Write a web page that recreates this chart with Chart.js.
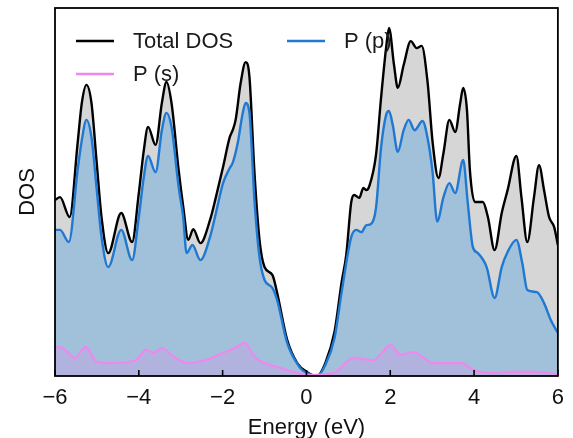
<!DOCTYPE html>
<html>
<head>
<meta charset="utf-8">
<script src="https://cdn.jsdelivr.net/npm/chart.js@4"></script>
<style>
  html, body { margin: 0; padding: 0; background: #ffffff; }
  #wrap { width: 573px; height: 438px; }
</style>
</head>
<body>
<div id="wrap"><canvas id="c" width="573" height="438"></canvas></div>
<script>
// ---- data (energy in eV, DOS in arbitrary units) ----
const energyTotal = [-6.00,-5.88,-5.65,-5.46,-5.36,-5.25,-5.13,-5.01,-4.89,-4.73,-4.42,-4.16,-4.00,-3.88,-3.78,-3.60,-3.45,-3.34,-3.22,-3.05,-2.94,-2.82,-2.70,-2.53,-2.30,-2.16,-1.99,-1.83,-1.76,-1.69,-1.57,-1.45,-1.36,-1.24,-1.12,-1.00,-0.81,-0.70,-0.46,-0.22,0.01,0.25,0.45,0.67,0.84,0.95,1.07,1.14,1.26,1.36,1.43,1.50,1.66,1.78,1.90,1.97,2.09,2.18,2.32,2.49,2.63,2.75,2.89,3.01,3.15,3.27,3.41,3.55,3.67,3.74,3.83,3.90,4.02,4.21,4.33,4.49,4.66,4.80,5.01,5.13,5.27,5.43,5.55,5.67,5.79,5.91,6.00];
const dosTotal    = [4.78,4.86,4.32,6.33,7.42,7.91,7.42,5.87,4.32,3.34,4.43,3.64,4.97,6.14,6.77,6.28,7.42,7.99,7.42,5.60,4.60,3.70,3.99,3.61,4.24,4.86,5.68,6.49,6.68,6.96,7.96,8.53,8.13,5.52,3.70,2.96,2.74,2.26,0.98,0.35,0.11,0.00,0.35,1.20,2.55,3.29,4.73,4.92,4.84,5.11,5.05,5.16,6.01,7.55,8.91,9.46,8.45,7.83,8.45,9.10,8.91,8.97,7.99,6.36,5.38,6.06,6.96,6.63,7.42,7.83,7.23,5.60,4.73,4.73,4.32,3.42,4.43,5.05,5.98,4.86,3.64,4.86,5.73,5.05,4.32,4.05,3.56];

const energyP = [-6.00,-5.88,-5.67,-5.46,-5.36,-5.25,-5.13,-5.01,-4.89,-4.73,-4.42,-4.16,-4.00,-3.88,-3.78,-3.60,-3.45,-3.34,-3.22,-3.05,-2.94,-2.86,-2.72,-2.53,-2.30,-2.16,-1.99,-1.83,-1.76,-1.64,-1.52,-1.45,-1.36,-1.24,-1.12,-1.00,-0.81,-0.70,-0.46,-0.15,0.01,0.25,0.45,0.67,0.84,1.07,1.19,1.31,1.43,1.54,1.66,1.78,1.90,1.97,2.06,2.18,2.32,2.44,2.58,2.77,2.89,3.01,3.12,3.27,3.41,3.55,3.74,3.85,3.97,4.09,4.30,4.49,4.66,4.80,5.01,5.15,5.27,5.50,5.67,5.83,6.00];
const dosP    = [3.97,3.97,3.64,5.60,6.41,6.96,6.49,5.14,3.78,2.96,3.97,3.15,4.32,5.41,5.98,5.54,6.68,7.15,6.77,5.14,4.30,3.34,3.56,3.15,3.78,4.43,5.24,5.65,5.79,6.33,7.15,7.42,7.15,4.78,3.23,2.61,2.39,2.07,0.90,0.22,0.08,0.00,0.30,1.03,2.28,3.78,3.97,3.91,4.10,4.13,4.57,6.20,7.09,7.20,6.82,6.09,6.68,6.96,6.68,6.93,6.47,5.54,4.20,4.86,5.24,4.97,5.87,4.70,3.51,3.34,2.96,2.12,2.96,3.37,3.70,3.07,2.34,2.28,1.98,1.52,1.17];

const energyS = [-6.00,-5.93,-5.76,-5.53,-5.27,-5.00,-4.70,-4.07,-3.83,-3.64,-3.45,-3.17,-2.82,-2.42,-1.94,-1.71,-1.47,-1.24,-1.00,-0.62,-0.22,0.08,0.65,1.12,1.59,2.01,2.25,2.53,3.05,3.36,3.71,4.00,4.49,4.80,5.50,6.00];
const dosS    = [0.76,0.79,0.71,0.49,0.79,0.38,0.35,0.43,0.71,0.63,0.76,0.52,0.35,0.43,0.65,0.76,0.90,0.52,0.35,0.22,0.08,0.03,0.08,0.49,0.43,0.84,0.57,0.65,0.35,0.35,0.35,0.16,0.08,0.11,0.11,0.05];

const xTickValues = [-6, -4, -2, 0, 2, 4, 6];
const xTickLabels = ['\u22126', '\u22124', '\u22122', '0', '2', '4', '6'];
const seriesNames = ['Total DOS', 'P (p)', 'P (s)'];

const pts = (xs, ys) => xs.map((x, i) => ({ x: x, y: ys[i] }));
const FONT = '"Liberation Sans", Arial, sans-serif';

const framePlugin = {
  id: 'frame',
  afterDatasetsDraw(chart) {
    const { ctx, chartArea: a, scales } = chart;
    ctx.save();
    ctx.strokeStyle = '#000';
    ctx.lineWidth = 1.6;
    xTickValues.forEach(v => {
      const px = scales.x.getPixelForValue(v);
      ctx.beginPath();
      ctx.moveTo(px, a.bottom);
      ctx.lineTo(px, a.bottom - 6);
      ctx.stroke();
    });
    ctx.lineWidth = 1.8;
    ctx.strokeRect(a.left, a.top, a.right - a.left, a.bottom - a.top);
    ctx.restore();
  },
  afterDraw(chart) {
    const { ctx } = chart;
    const items = [
      { name: seriesNames[0], color: '#000000', x: 76, y: 41 },
      { name: seriesNames[2], color: '#ee88ee', x: 76, y: 74 },
      { name: seriesNames[1], color: '#1f78d1', x: 287, y: 41 }
    ];
    ctx.save();
    ctx.font = '22px ' + FONT;
    ctx.textBaseline = 'middle';
    ctx.textAlign = 'left';
    items.forEach(it => {
      ctx.strokeStyle = it.color;
      ctx.lineWidth = 2.4;
      ctx.beginPath();
      ctx.moveTo(it.x, it.y);
      ctx.lineTo(it.x + 38, it.y);
      ctx.stroke();
      ctx.fillStyle = '#1a1a1a';
      ctx.fillText(it.name, it.x + 57, it.y + 1);
    });
    ctx.restore();
  }
};

new Chart(document.getElementById('c'), {
  type: 'line',
  data: {
    datasets: [
      {
        label: seriesNames[2],
        data: pts(energyS, dosS),
        borderColor: '#ee88ee',
        backgroundColor: 'rgba(238,130,238,0.22)',
        borderWidth: 2.2,
        fill: 'origin',
        order: 0
      },
      {
        label: seriesNames[1],
        data: pts(energyP, dosP),
        borderColor: '#1f78d1',
        backgroundColor: 'rgb(161,192,218)',
        borderWidth: 2.4,
        fill: 'origin',
        order: 1
      },
      {
        label: seriesNames[0],
        data: pts(energyTotal, dosTotal),
        borderColor: '#000000',
        backgroundColor: 'rgb(214,214,214)',
        borderWidth: 2.4,
        fill: 'origin',
        order: 2
      }
    ]
  },
  options: {
    responsive: false,
    animation: false,
    events: [],
    layout: { padding: { top: 8, right: 9, left: 0, bottom: 0 } },
    elements: {
      point: { radius: 0 },
      line: { tension: 0.4, cubicInterpolationMode: 'monotone' }
    },
    plugins: {
      legend: { display: false },
      tooltip: { enabled: false }
    },
    scales: {
      x: {
        type: 'linear',
        min: -6,
        max: 6,
        afterBuildTicks: (s) => { s.ticks = xTickValues.map(v => ({ value: v })); },
        afterFit: (s) => { s.height = 62; },
        grid: { display: false, drawTicks: false },
        border: { display: false },
        ticks: {
          padding: 9,
          color: '#111',
          font: { family: FONT, size: 22 },
          maxRotation: 0,
          callback: (v, i) => xTickLabels[i]
        },
        title: {
          display: true,
          text: 'Energy (eV)',
          color: '#111',
          font: { family: FONT, size: 22, lineHeight: 1 },
          padding: { top: 0, bottom: -1 }
        }
      },
      y: {
        type: 'linear',
        min: 0,
        max: 10,
        afterFit: (s) => { s.width = 55; },
        grid: { display: false, drawTicks: false },
        border: { display: false },
        ticks: { display: false },
        title: {
          display: true,
          text: 'DOS',
          color: '#111',
          font: { family: FONT, size: 22, lineHeight: 1 },
          padding: { top: 17, bottom: 0 }
        }
      }
    }
  },
  plugins: [framePlugin]
});
</script>
</body>
</html>
